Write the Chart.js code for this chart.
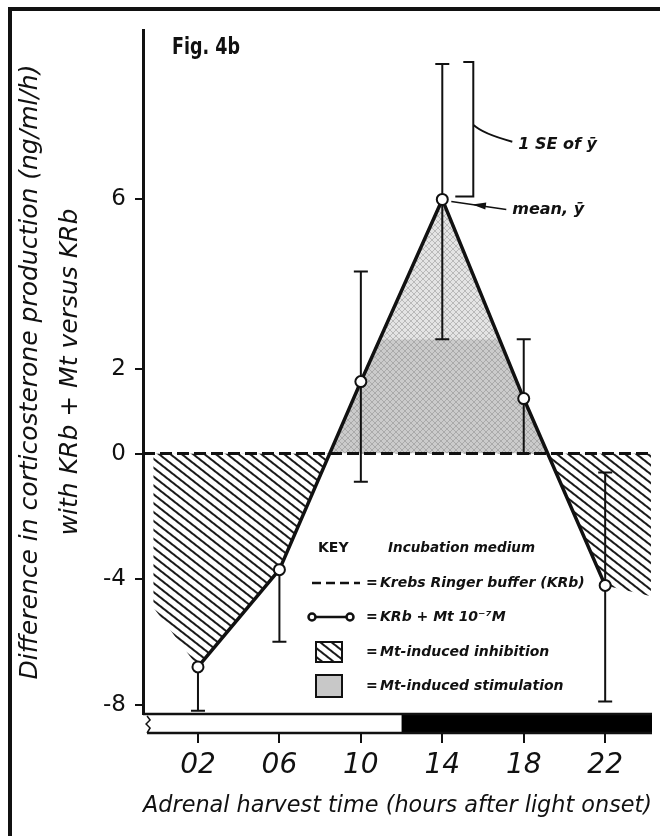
<!DOCTYPE html>
<html>
<head>
<meta charset="utf-8">
<style>
  html, body { margin: 0; padding: 0; background: #fff; }
</style>
</head>
<body>
<canvas id="miGrafico" width="660" height="836"></canvas>
<script src="https://cdn.jsdelivr.net/npm/chart.js@4.4.1/dist/chart.umd.min.js"></script>
<script>
// Datos (Fig. 4b)
var horas = [2, 6, 10, 14, 18, 22];
var medias = [-6.8, -3.7, 1.7, 6.0, 1.3, -4.2];
var errorArriba = [0, 0, 2.6, 3.2, 1.4, 3.6];   // 02 y 06 solo tienen la barra de abajo
var errorAbajo = [1.4, 2.3, 2.6, 3.3, 1.3, 3.7];
var ticksY = [-8, -4, 0, 2, 6];
var ticksX = [2, 6, 10, 14, 18, 22];
var periodoLuz = [-0.5, 12];
var periodoOscuridad = [12, 24.3];
// bordes del sombreado a los lados de la curva
var sombraIzq = { x: -0.2, y: -4.9 };
var sombraDer = { x: 24.25, y: -4.55 };

// rangos de los ejes
var xMin = -0.7, xMax = 24.3;
var yMin = -8.3, yMax = 10;
// el eje y original no es lineal: arriba del 0 tiene mas pixeles por unidad
var UNIDAD_POS = 42.4, UNIDAD_NEG = 31.4;
var CORTE_TONO = 2.7; // donde cambia el tono del gris

var FUENTE = '"DejaVu Sans", "Liberation Sans", sans-serif';
Chart.defaults.color = '#111';

class EscalaPartida extends Chart.LinearScale {
  transformar(v) { return v >= 0 ? v * UNIDAD_POS : v * UNIDAD_NEG; }
  destransformar(t) { return t >= 0 ? t / UNIDAD_POS : t / UNIDAD_NEG; }
  getPixelForValue(valor) {
    var lo = this.transformar(this.min), hi = this.transformar(this.max);
    return this.getPixelForDecimal((this.transformar(valor) - lo) / (hi - lo));
  }
  getValueForPixel(pixel) {
    var lo = this.transformar(this.min), hi = this.transformar(this.max);
    return this.destransformar(lo + this.getDecimalForPixel(pixel) * (hi - lo));
  }
}
EscalaPartida.id = 'partida';
EscalaPartida.defaults = Chart.LinearScale.defaults;
Chart.register(EscalaPartida);

// rayado diagonal (inhibicion)
function crearRayado() {
  var c = document.createElement('canvas');
  c.width = 8; c.height = 7;
  var g = c.getContext('2d');
  g.fillStyle = '#fff'; g.fillRect(0, 0, 8, 7);
  g.fillStyle = '#1a1a1a'; g.fillRect(0, 0, 8, 2);
  var p = g.createPattern(c, 'repeat');
  p.setTransform(new DOMMatrix().rotate(38));
  return p;
}
var rayado = crearRayado();

// punteado gris (estimulacion), mas claro arriba del corte
function crearPatronGris(alto, corte) {
  var c = document.createElement('canvas');
  c.width = 6; c.height = alto;
  var g = c.getContext('2d');
  g.fillStyle = '#e4e4e4'; g.fillRect(0, 0, 6, corte);
  g.fillStyle = '#cbcbcb'; g.fillRect(0, corte, 6, alto - corte);
  g.strokeStyle = 'rgba(120,120,120,0.4)';
  g.lineWidth = 1;
  g.beginPath();
  for (var y = -6; y < alto + 6; y += 6) {
    g.moveTo(0, y); g.lineTo(6, y + 6);
    g.moveTo(0, y + 6); g.lineTo(6, y);
  }
  g.stroke();
  return g.createPattern(c, 'repeat');
}

var puntos = horas.map(function (h, i) { return { x: h, y: medias[i] }; });

// barras de error, se dibujan antes de la linea principal
var pluginErrores = {
  id: 'barrasError',
  beforeDatasetDraw: function (chart, args) {
    if (args.index !== 0) return;
    var ctx = chart.ctx, sx = chart.scales.x, sy = chart.scales.y;
    ctx.save();
    ctx.strokeStyle = '#111';
    ctx.lineWidth = 2;
    horas.forEach(function (h, i) {
      var px = sx.getPixelForValue(h);
      var arriba = sy.getPixelForValue(medias[i] + errorArriba[i]);
      var abajo = sy.getPixelForValue(medias[i] - errorAbajo[i]);
      ctx.beginPath();
      ctx.moveTo(px, arriba); ctx.lineTo(px, abajo);
      if (errorArriba[i] > 0) { ctx.moveTo(px - 7, arriba); ctx.lineTo(px + 7, arriba); }
      ctx.moveTo(px - 7, abajo); ctx.lineTo(px + 7, abajo);
      ctx.stroke();
    });
    ctx.restore();
  }
};

// barra luz/oscuridad, marco, textos y la clave
var pluginExtras = {
  id: 'extras',
  afterDraw: function (chart) {
    var ctx = chart.ctx, sx = chart.scales.x, sy = chart.scales.y, area = chart.chartArea;
    ctx.save();

    // marco de la figura
    ctx.fillStyle = '#111';
    ctx.fillRect(8, 7, 652, 4);
    ctx.fillRect(8, 7, 4, 829);

    // barra fotoperiodo
    var x0 = sx.getPixelForValue(periodoLuz[0]);
    var x1 = sx.getPixelForValue(periodoLuz[1]);
    var x2 = sx.getPixelForValue(periodoOscuridad[1]);
    var top = area.bottom, alto = 19;
    ctx.fillStyle = '#fff'; ctx.fillRect(x0, top, x1 - x0, alto);
    ctx.fillStyle = '#000'; ctx.fillRect(x1, top, x2 - x1, alto);
    ctx.strokeStyle = '#111'; ctx.lineWidth = 2.5;
    ctx.beginPath();
    ctx.moveTo(area.left, top); ctx.lineTo(x2, top);
    ctx.moveTo(x0, top + alto); ctx.lineTo(x2, top + alto);
    ctx.stroke();
    ctx.lineWidth = 1.5;
    ctx.beginPath();
    ctx.moveTo(x0, top + 2); ctx.lineTo(x0 + 3, top + 6); ctx.lineTo(x0 - 1, top + 10);
    ctx.lineTo(x0 + 3, top + 14); ctx.lineTo(x0, top + alto);
    ctx.stroke();

    // Fig. 4b
    ctx.fillStyle = '#111';
    ctx.textBaseline = 'middle';
    ctx.textAlign = 'left';
    ctx.font = 'bold 23px ' + FUENTE;
    ctx.fillText('Fig. 4b', 172, 48, 68);

    // anotaciones sobre el punto de las 14 h
    var xp = sx.getPixelForValue(horas[3]);
    var yTope = sy.getPixelForValue(medias[3] + errorArriba[3]);
    var yMedia = sy.getPixelForValue(medias[3]);
    var medio = (yTope + yMedia) / 2;
    ctx.lineWidth = 2;
    ctx.beginPath();
    ctx.moveTo(xp + 21, yTope - 2); ctx.lineTo(xp + 31, yTope - 2);
    ctx.lineTo(xp + 31, yMedia - 3); ctx.lineTo(xp + 13, yMedia - 3);
    ctx.moveTo(xp + 31, medio - 7);
    ctx.quadraticCurveTo(xp + 40, medio + 2, xp + 70, medio + 10);
    ctx.stroke();
    ctx.font = 'bold italic 16px ' + FUENTE;
    ctx.fillText('1 SE of ȳ', xp + 76, medio + 13);

    ctx.lineWidth = 1.5;
    ctx.beginPath();
    ctx.moveTo(xp + 9, yMedia + 2); ctx.lineTo(xp + 64, yMedia + 10);
    ctx.stroke();
    ctx.beginPath();
    ctx.moveTo(xp + 30, yMedia + 5);
    ctx.lineTo(xp + 44, yMedia + 3);
    ctx.lineTo(xp + 43, yMedia + 10);
    ctx.closePath();
    ctx.fill();
    ctx.fillText('mean, ȳ', xp + 70, yMedia + 10);

    // clave
    ctx.font = 'bold 14px ' + FUENTE;
    ctx.fillText('KEY', 318, 548);
    ctx.font = 'bold italic 14px ' + FUENTE;
    ctx.fillText('Incubation medium', 388, 548, 147);

    var filas = [583, 617, 652, 686];
    ctx.fillText('=', 366, filas[0]); ctx.fillText('=', 366, filas[1]);
    ctx.fillText('=', 366, filas[2]); ctx.fillText('=', 366, filas[3]);
    ctx.fillText('Krebs Ringer buffer (KRb)', 380, filas[0], 208);
    ctx.fillText('KRb + Mt 10⁻⁷M', 380, filas[1], 137);
    ctx.fillText('Mt-induced inhibition', 380, filas[2], 178);
    ctx.fillText('Mt-induced stimulation', 380, filas[3], 188);

    ctx.lineWidth = 2.5;
    ctx.setLineDash([9, 5]);
    ctx.beginPath(); ctx.moveTo(312, filas[0]); ctx.lineTo(360, filas[0]); ctx.stroke();
    ctx.setLineDash([]);
    ctx.beginPath(); ctx.moveTo(312, filas[1]); ctx.lineTo(350, filas[1]); ctx.stroke();
    ctx.fillStyle = '#fff';
    [312, 350].forEach(function (cx) {
      ctx.beginPath(); ctx.arc(cx, filas[1], 3.5, 0, Math.PI * 2); ctx.fill(); ctx.stroke();
    });
    ctx.lineWidth = 2;
    ctx.fillStyle = rayado;
    ctx.fillRect(316, filas[2] - 10, 26, 20);
    ctx.strokeRect(316, filas[2] - 10, 26, 20);
    ctx.fillStyle = '#c8c8c8';
    ctx.fillRect(316, filas[3] - 11, 26, 22);
    ctx.strokeRect(316, filas[3] - 11, 26, 22);

    ctx.restore();
  }
};

var grafico = new Chart(document.getElementById('miGrafico'), {
  type: 'line',
  data: {
    datasets: [{
      label: 'KRb + Mt 10⁻⁷M',
      data: puntos,
      borderColor: '#111',
      borderWidth: 3.5,
      pointRadius: 5.5,
      pointBackgroundColor: '#fff',
      pointBorderColor: '#111',
      pointBorderWidth: 2,
      fill: false,
      order: 0
    }, {
      label: 'Krebs Ringer buffer (KRb)',
      data: [{ x: xMin, y: 0 }, { x: xMax, y: 0 }],
      borderColor: '#111',
      borderWidth: 3,
      borderDash: [12, 5],
      pointRadius: 0,
      fill: false,
      order: 1
    }, {
      label: 'sombreado',
      data: [sombraIzq].concat(puntos, [sombraDer]),
      borderColor: 'transparent',
      borderWidth: 0,
      pointRadius: 0,
      order: 2,
      fill: function (context) {
        var chart = context.chart;
        if (!chart.chartArea) {
          return { target: { value: 0 }, above: '#ddd', below: rayado };
        }
        var corte = chart.scales.y.getPixelForValue(CORTE_TONO);
        return { target: { value: 0 }, above: crearPatronGris(chart.height, corte), below: rayado };
      }
    }]
  },
  options: {
    responsive: false,
    animation: false,
    layout: { padding: { top: 30, right: 8, left: 0, bottom: 0 } },
    plugins: {
      legend: { display: false },
      tooltip: { enabled: false }
    },
    scales: {
      x: {
        type: 'linear',
        min: xMin,
        max: xMax,
        afterBuildTicks: function (scale) {
          scale.ticks = ticksX.map(function (v) { return { value: v }; });
        },
        afterFit: function (scale) { scale.height = 122; },
        border: { display: false },
        grid: { drawOnChartArea: false, tickLength: 29, color: '#111', lineWidth: 2 },
        ticks: {
          autoSkip: false,
          maxRotation: 0,
          padding: 6,
          font: { family: FUENTE, size: 28, style: 'italic' },
          callback: function (v) { return (v < 10 ? '0' : '') + v; }
        },
        title: {
          display: true,
          text: 'Adrenal harvest time (hours after light onset)',
          font: { family: FUENTE, size: 23, style: 'italic', lineHeight: 1.2 },
          padding: { top: 0, bottom: 16 }
        }
      },
      y: {
        type: 'partida',
        min: yMin,
        max: yMax,
        afterBuildTicks: function (scale) {
          scale.ticks = ticksY.map(function (v) { return { value: v }; });
        },
        afterFit: function (scale) { scale.width = 143; },
        border: { display: true, color: '#111', width: 3 },
        grid: { drawOnChartArea: false, tickLength: 8, color: '#111', lineWidth: 2 },
        ticks: {
          padding: 9,
          font: { family: FUENTE, size: 23 },
          callback: function (v) { return String(v); }
        },
        title: {
          display: true,
          text: ['Difference in corticosterone production (ng/ml/h)', 'with KRb + Mt versus KRb'],
          font: { family: FUENTE, size: 25, style: 'italic', lineHeight: 1.62 },
          padding: { top: 10, bottom: 0 }
        }
      }
    }
  },
  plugins: [pluginErrores, pluginExtras]
});
</script>
</body>
</html>
